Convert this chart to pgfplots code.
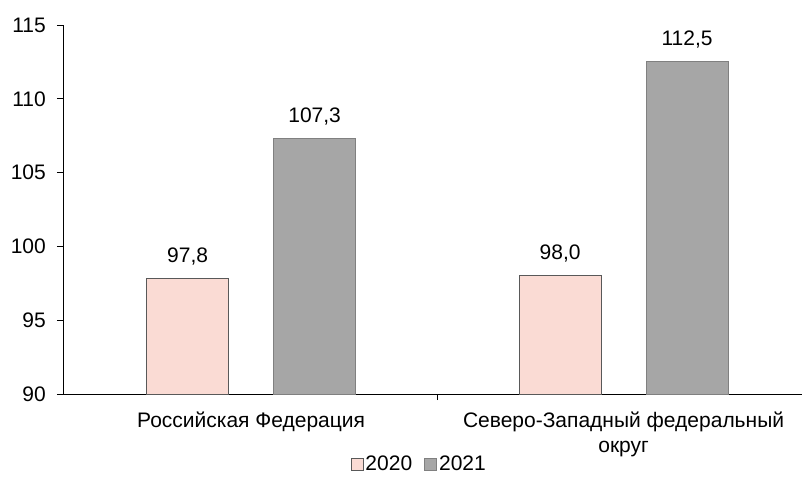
\documentclass[border=0pt]{standalone}
\usepackage{pgfplots}
\pgfplotsset{compat=1.18}
\usepackage{fontspec}
\setmainfont{Liberation Sans}
\definecolor{pinkbar}{HTML}{FADBD4}
\definecolor{graybar}{HTML}{A6A6A6}
\newcommand{\chartfont}{\fontsize{21bp}{25bp}\selectfont}
\begin{document}
\chartfont
\begin{tikzpicture}
\path[use as bounding box] (-63bp,-83bp) rectangle (739bp,394bp);
\begin{axis}[
  at={(0,0)}, anchor=south west,
  scale only axis, width=739bp, height=369bp,
  ybar=45bp, bar width=82bp,
  xmin=-0.505, xmax=1.479, ymin=90, ymax=115,
  ytick distance=5,
  axis lines*=left,
  axis line style={line width=1pt, black},
  tick align=outside, major tick length=6bp,
  tick style={black, line width=0.8pt},
  xtick={0.5}, xticklabels={},
  extra x ticks={0,1},
  extra x tick labels={Российская Федерация, {Северо-Западный федеральный\\округ}},
  extra x tick style={major tick length=0pt, tick label style={align=center, yshift=-11bp}},
  ticklabel style={font=\chartfont},
  yticklabel style={xshift=-4bp},
  /pgf/number format/assume math mode=true,
  /pgf/number format/use comma,
  nodes near coords,
  nodes near coords style={font=\chartfont, /pgf/number format/fixed, /pgf/number format/precision=1, /pgf/number format/fixed zerofill, yshift=6bp},
  legend style={at={(0.482,-0.192)}, anchor=center, draw=none, font=\chartfont,
    legend columns=2, /tikz/every even column/.append style={column sep=10bp},
    nodes={inner xsep=2bp}},
  legend image code/.code={\draw[#1] (0bp,-6bp) rectangle (12bp,6bp);},
]
\addplot[fill=pinkbar, draw=black!65, line width=0.9pt] coordinates {(0,97.8) (1,98.0)};
\addplot[fill=graybar, draw=black!50, line width=0.9pt] coordinates {(0,107.3) (1,112.5)};
\legend{2020, 2021}
\end{axis}
\end{tikzpicture}
\end{document}
